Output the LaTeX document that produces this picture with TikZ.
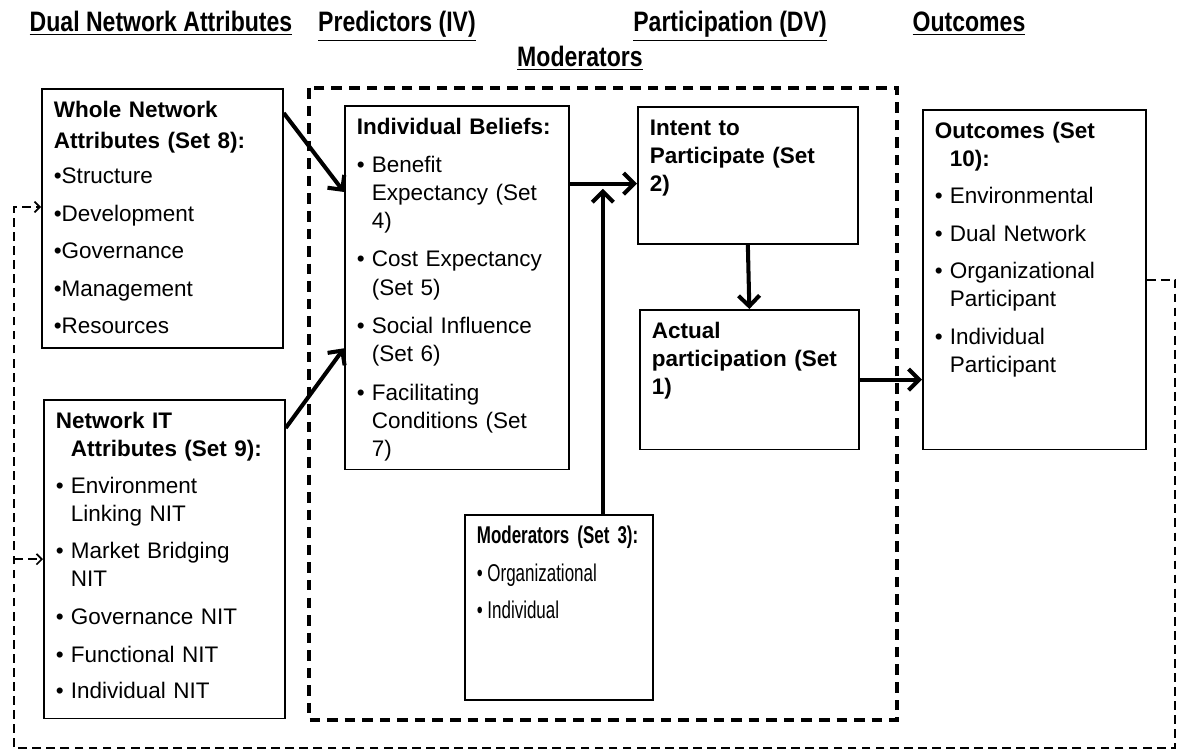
\documentclass[tikz,border=0pt]{standalone}
\usepackage{fontspec}
\setmainfont{Liberation Sans}
\newfontfamily\headfont[FakeStretch=0.82]{Liberation Sans}
\newfontfamily\narrowfont[FakeStretch=0.7]{Liberation Sans}
\usetikzlibrary{
  arrows.meta,
  positioning
}

\newlength{\bulwd}
\setlength{\bulwd}{8.5pt}
\newcommand{\bdot}{\makebox[\bulwd][l]{\textbullet}}
\newcommand{\bind}{\hspace*{\bulwd}}

\begin{document}
\begin{tikzpicture}[
  x=0.02cm, y=-0.02cm,
  every node/.style={font=\fontsize{12.8}{16}\selectfont},
  blk/.style={draw, line width=1pt, anchor=north west, align=left,
              inner xsep=0.24cm, inner ysep=0pt, text height=16.2pt},
  hdr/.style={anchor=base, font=\headfont\fontsize{16}{18}\selectfont\bfseries},
  arr/.style={line width=2.3pt, -{Straight Barb[length=6pt, width=12pt]}},
  fb/.style={line width=1pt, dash pattern=on 5pt off 3pt,
             -{Straight Barb[length=3pt, width=6pt]}},
  zone/.style={line width=2pt, dash pattern=on 6pt off 4pt}
]
\useasboundingbox (0,0) rectangle (1177,750);

% Column headings
\node[hdr] (hdual) at (161,32) {\underline{Dual Network Attributes}};
\node[hdr] (hpred) at (397,32) {\underline{Predictors (IV)}};
\node[hdr] (hpart) at (730,32) {\underline{Participation (DV)}};
\node[hdr] (hout)  at (969,32) {\underline{Outcomes}};
\node[hdr] (hmod)  at (580,67) {\underline{Moderators}};

% Moderators zone
\draw[zone] (309,88) rectangle (897,720);

% Dual network attributes
\node[blk, text width=4.34cm, text depth=131.2pt] (whole) at (41,88) {
  \textbf{Whole Network}\\[2pt]
  \textbf{Attributes (Set 8):}\\[3.8pt]
  \textbullet Structure\\[5.3pt]
  \textbullet Development\\[5.3pt]
  \textbullet Governance\\[5.3pt]
  \textbullet Management\\[5.3pt]
  \textbullet Resources};

\node[blk, text width=4.34cm, text depth=165.2pt] (nit) at (43,399) {
  \textbf{Network IT}\\
  \bind\textbf{Attributes (Set 9):}\\[5pt]
  \bdot Environment\\
  \bind Linking NIT\\[5pt]
  \bdot Market Bridging\\
  \bind NIT\\[5.5pt]
  \bdot Governance NIT\\[6pt]
  \bdot Functional NIT\\[4.5pt]
  \bdot Individual NIT};

% Predictors
\node[blk, text width=4.0cm, text depth=190.7pt] (bel) at (344,105) {
  \textbf{Individual Beliefs:}\\[5.5pt]
  \bdot Benefit\\
  \bind Expectancy (Set\\
  \bind 4)\\[6pt]
  \bdot Cost Expectancy\\
  \bind (Set 5)\\[6pt]
  \bdot Social Influence\\
  \bind (Set 6)\\[6pt]
  \bdot Facilitating\\
  \bind Conditions (Set\\
  \bind 7)};

% Participation
\node[blk, text width=3.92cm, text depth=62pt] (int) at (637,106) {
  \textbf{Intent to}\\
  \textbf{Participate (Set}\\
  \textbf{2)}};

\node[blk, text width=3.9cm, text depth=63.2pt] (act) at (639,309) {
  \textbf{Actual}\\
  \textbf{participation (Set}\\
  \textbf{1)}};

% Moderators
\node[blk, text width=3.28cm, text depth=89.3pt,
      font=\narrowfont\fontsize{13.8}{16}\selectfont] (mod) at (464,514) {
  \setlength{\bulwd}{6pt}\textbf{Moderators (Set 3):}\\[5.5pt]
  \bdot Organizational\\[5pt]
  \bdot Individual};

% Outcomes
\node[blk, text width=3.98cm, text depth=177.1pt] (outc) at (922,109) {
  \textbf{Outcomes (Set}\\
  \bind\textbf{10):}\\[5pt]
  \bdot Environmental\\[5.5pt]
  \bdot Dual Network\\[5pt]
  \bdot Organizational\\
  \bind Participant\\[6pt]
  \bdot Individual\\
  \bind Participant};

% Main arrows
\coordinate (jn) at ([yshift=-0.16cm]int.west);
\coordinate (mt) at ([xshift=0.88cm]mod.north);
\draw[arr] ([yshift=-0.5cm]whole.north east) -- ([yshift=-1.74cm]bel.north west);
\draw[arr] ([yshift=-0.58cm]nit.north east) -- ([yshift=2.44cm]bel.south west);
\draw[arr] (bel.east |- jn) -- (jn);
\draw[arr, shorten >=3pt] (mt) -- (mt |- jn);
\draw[arr] (int.south) -- (act.north);
\draw[arr] (act.east) -- (act.east -| outc.west);

% Feedback loop
\coordinate (fbR) at (1175,748);
\coordinate (fbL) at (14,748);
\coordinate (fbA) at (14,207);
\draw[fb] (outc.east) -| (fbR) -- (fbL) |- (whole.west |- fbA);
\draw[fb] (fbL |- nit.west) -- (nit.west);

\end{tikzpicture}
\end{document}
